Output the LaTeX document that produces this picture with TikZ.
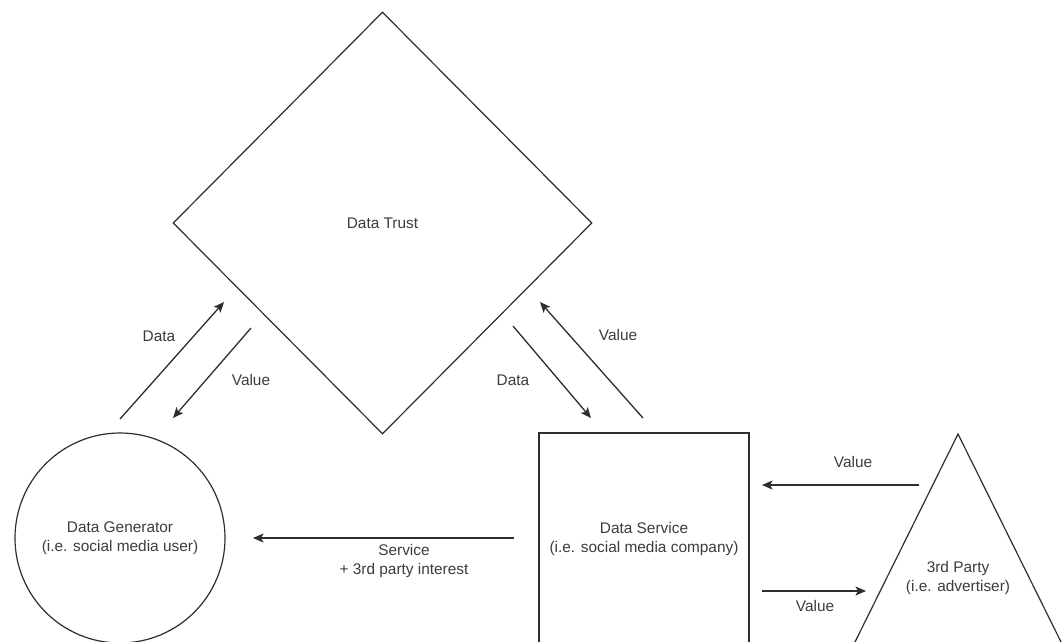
\documentclass[tikz,border=0pt]{standalone}
\usepackage{fontspec}
\setmainfont{Liberation Sans}
\usetikzlibrary{shapes.geometric,arrows.meta}
\definecolor{ln}{HTML}{2E2E2E}
\definecolor{tx}{HTML}{3C3C3C}
\begin{document}
\begin{tikzpicture}[x=1pt,y=-1pt,
  every node/.style={font=\fontsize{15.4}{19}\selectfont,text=tx,align=center,inner sep=0pt},
  shapebox/.style={draw=ln,line width=1.2pt},
  conn/.style={draw=ln,line width=1.3pt,-{Stealth[length=10.5pt,width=9pt,inset=2.5pt]}}]
\useasboundingbox (0,0) rectangle (1062,641);
\clip (0,0) rectangle (1062,641);
\fill[white] (0,0) rectangle (1062,641);
% shapes
\node[shapebox,diamond,minimum width=419pt,minimum height=422pt] (trust) at (382.5,223) {Data Trust};
\node[shapebox,circle,minimum size=210pt] (gen) at (120,538) {Data Generator\\(i.e. social media user)};
\node[shapebox,rectangle,minimum width=210pt,minimum height=212pt] (svc) at (644,539) {Data Service\\(i.e. social media company)};
\coordinate (apex) at (958,434);
\coordinate (bl) at (853,646);
\coordinate (br) at (1063,646);
\draw[shapebox] (apex) -- (bl) -- (br) -- cycle;
\node (party) at (958,578.5) {3rd Party\\(i.e. advertiser)};
% arrow end points
\coordinate (a1s) at (120,419); \coordinate (a1e) at (224,302);
\coordinate (a2s) at (251,328); \coordinate (a2e) at (173,418);
\coordinate (a3s) at (513,326); \coordinate (a3e) at (591,418);
\coordinate (a4s) at (643,418); \coordinate (a4e) at (540,302);
\coordinate (a5s) at (514,538); \coordinate (a5e) at (253,538);
\coordinate (a6s) at (919,485); \coordinate (a6e) at (762,485);
\coordinate (a7s) at (762,591); \coordinate (a7e) at (866,591);
\draw[conn] (a1s) -- (a1e);
\draw[conn] (a2s) -- (a2e);
\draw[conn] (a3s) -- (a3e);
\draw[conn] (a4s) -- (a4e);
\draw[conn] (a5s) -- (a5e);
\draw[conn] (a6s) -- (a6e);
\draw[conn] (a7s) -- (a7e);
% labels
\node (l1) at (159,336) {Data};
\node (l2) at (251,380) {Value};
\node (l3) at (513,380) {Data};
\node (l4) at (618,335) {Value};
\node (l5) at (404,561) {Service\\+ 3rd party interest};
\node (l6) at (853,462) {Value};
\node (l7) at (815,606) {Value};
\end{tikzpicture}
\end{document}
